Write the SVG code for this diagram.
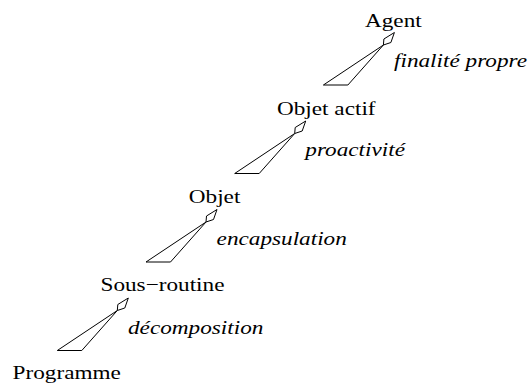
<svg xmlns="http://www.w3.org/2000/svg" width="531" height="385" viewBox="0 0 531 385">
  <style>
    text { font-family: 'Liberation Serif', 'Times New Roman', Times, serif; font-size: 19.6px; fill: #000; }
    .label { font-style: italic; }
    .shape { fill: #fff; stroke: #000; stroke-width: 1; stroke-linejoin: miter; }
  </style>
  <rect width="531" height="385" fill="#fff"/>

  <!-- links: thin wedge from the lower concept, diamond head at the upper one;
       all text is set with a horizontal stretch of 1.185 -->
  <g id="connectors">
    <g id="link-objet-actif-agent">
      <polygon class="shape" points="323.4,85 347.9,85 383.4,45"/>
      <polygon class="shape" points="383.4,45 383.9,39 394.4,32.5 390.9,42.5"/>
      <text class="label" transform="matrix(1.185 0 0 1 394 66.5)">finalité propre</text>
    </g>
    <g id="link-objet-objet-actif">
      <polygon class="shape" points="234.7,173.5 259.2,173.5 294.7,133.5"/>
      <polygon class="shape" points="294.7,133.5 295.2,127.5 305.7,121 302.2,131"/>
      <text class="label" transform="matrix(1.185 0 0 1 305.3 156)">proactivité</text>
    </g>
    <g id="link-sous-routine-objet">
      <polygon class="shape" points="146,262 170.5,262 206,222"/>
      <polygon class="shape" points="206,222 206.5,216 217,209.5 213.5,219.5"/>
      <text class="label" transform="matrix(1.185 0 0 1 216.6 245)">encapsulation</text>
    </g>
    <g id="link-programme-sous-routine">
      <polygon class="shape" points="57.3,350.5 81.8,350.5 117.3,310.5"/>
      <polygon class="shape" points="117.3,310.5 117.8,304.5 128.3,298 124.8,308"/>
      <text class="label" transform="matrix(1.185 0 0 1 128 334)">décomposition</text>
    </g>
  </g>

  <g id="agent">
    <text transform="matrix(1.185 0 0 1 365 27)">Agent</text>
  </g>
  <g id="objet-actif">
    <text transform="matrix(1.185 0 0 1 277 115)">Objet actif</text>
  </g>
  <g id="objet">
    <text transform="matrix(1.185 0 0 1 188.8 203)">Objet</text>
  </g>
  <g id="sous-routine">
    <text transform="matrix(1.185 0 0 1 100.5 291)">Sous−routine</text>
  </g>
  <g id="programme">
    <text transform="matrix(1.185 0 0 1 12.6 379)">Programme</text>
  </g>
</svg>
